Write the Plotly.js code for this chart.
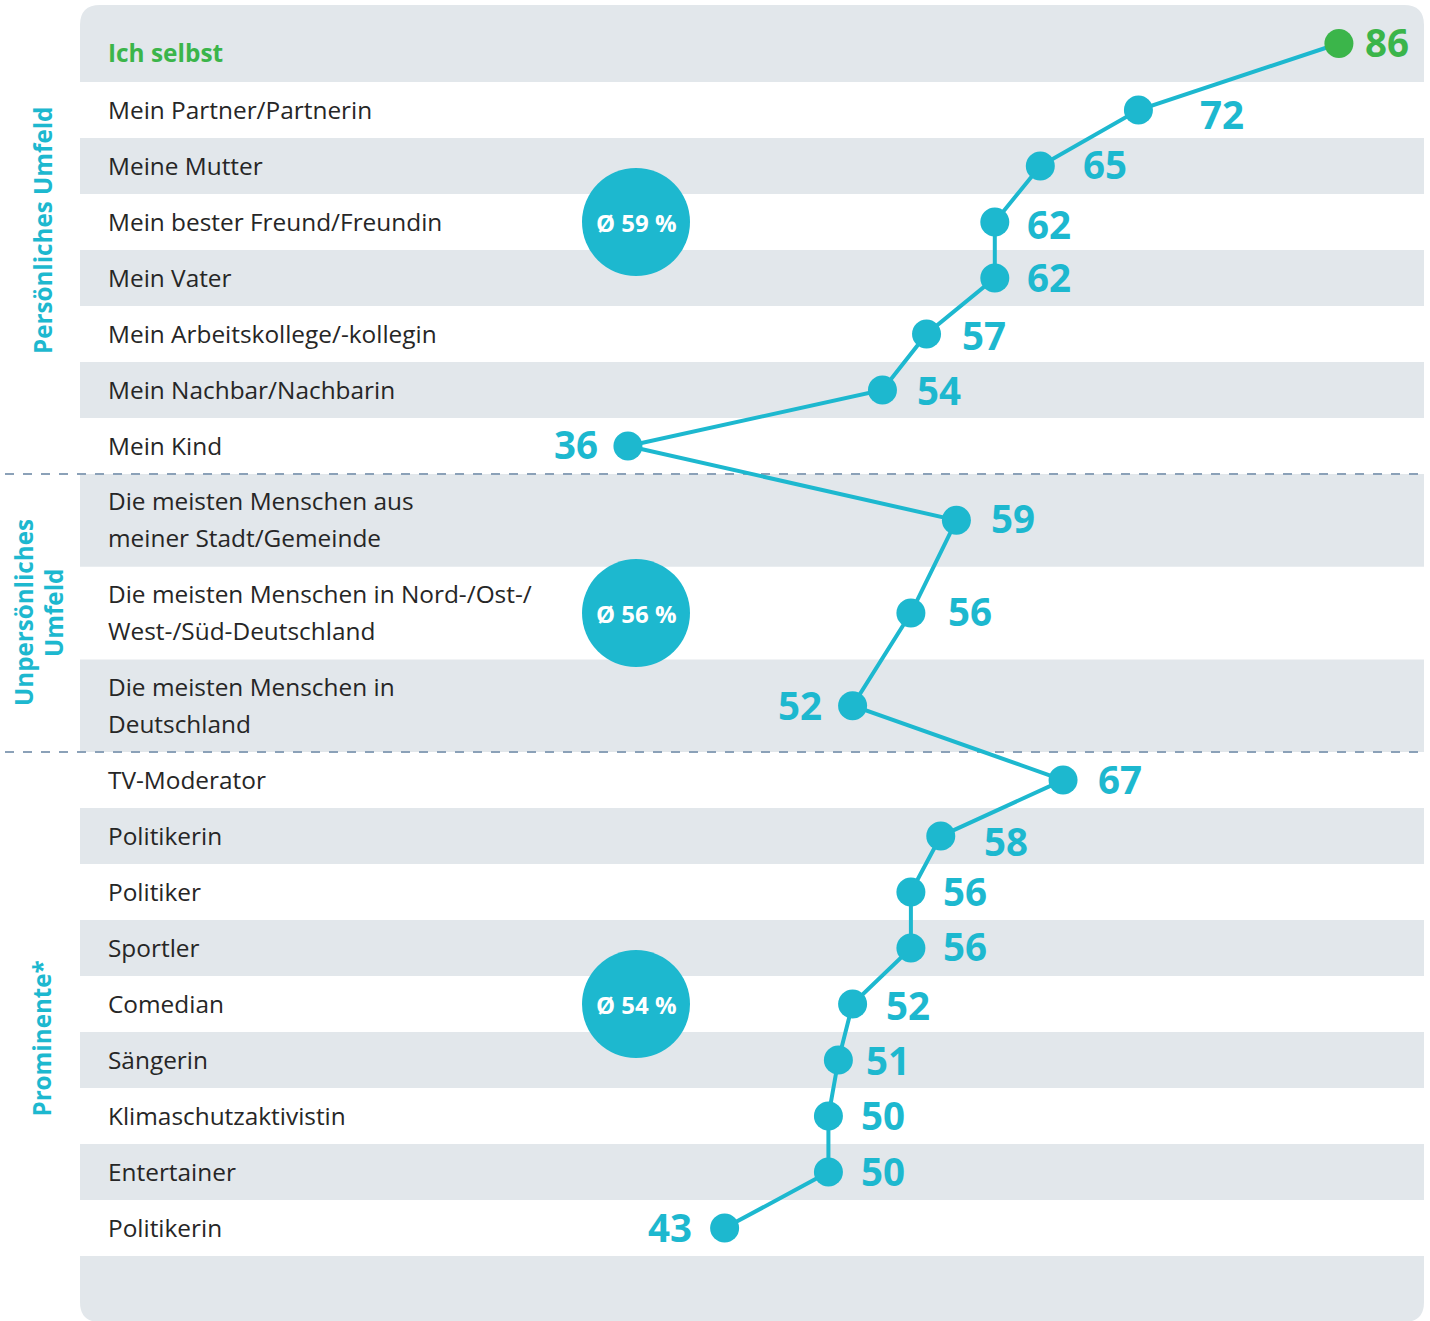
<!DOCTYPE html>
<html>
<head>
<meta charset="utf-8">
<script src="https://cdn.plot.ly/plotly-3.0.1.min.js"></script>
<style>
  html, body { margin: 0; padding: 0; background: #ffffff; }
  #chart { width: 1430px; height: 1321px; }
</style>
</head>
<body>
<div id="chart"></div>
<script>
// ---------------- DATA ----------------
const categories = [
  "Ich selbst",
  "Mein Partner/Partnerin",
  "Meine Mutter",
  "Mein bester Freund/Freundin",
  "Mein Vater",
  "Mein Arbeitskollege/-kollegin",
  "Mein Nachbar/Nachbarin",
  "Mein Kind",
  "Die meisten Menschen aus\nmeiner Stadt/Gemeinde",
  "Die meisten Menschen in Nord-/Ost-/\nWest-/Süd-Deutschland",
  "Die meisten Menschen in\nDeutschland",
  "TV-Moderator",
  "Politikerin",
  "Politiker",
  "Sportler",
  "Comedian",
  "Sängerin",
  "Klimaschutzaktivistin",
  "Entertainer",
  "Politikerin"
];
// values as read from the point positions (labels show them rounded)
const values = [86.0, 71.9, 65.0, 61.8, 61.8, 57.0, 53.9, 36.0, 59.1, 55.9, 51.8, 66.6, 58.0, 55.9, 55.9, 51.8, 50.8, 50.1, 50.1, 42.8];
const valueLabels = values.map(v => String(Math.round(v)));
const groupOfRow = [0, 0, 0, 0, 0, 0, 0, 0, 1, 1, 1, 2, 2, 2, 2, 2, 2, 2, 2, 2];
const groupNames = ["Persönliches Umfeld", "Unpersönliches\nUmfeld", "Prominente*"];
const groupAverages = [59, 56, 54];
const averageLabels = groupAverages.map(v => "Ø " + v + " %");

// ---------------- STYLE / LAYOUT CONFIG ----------------
const W = 1430, H = 1321;
const TEAL = "#1db8cf", GREEN = "#3bb54a", GREY = "#e2e7eb", DASH = "#8ba1b8", TEXT = "#262626";
const FONT = "Open Sans";
const panelLeft = 80, panelRight = 1424, panelTop = 5, panelBottom = 1322, panelRadius = 20;
const firstRowExtra = 21;          // extra top padding of first row
const rowH1 = 56, rowH2 = 92.7;    // single / double line rows
const labelX = 106;
const lineGap = 37;                // line spacing of two-line labels
const pxPerUnit = 14.22, zeroPx = 116; // x scale
const labelLeftIdx = [7, 10, 19];  // value labels placed on the left
// per-label gap (px from point centre) and vertical nudge (px, down positive)
const labelGap = [26, 62, 43, 32, 32, 35, 35, 30, 35, 37, 31, 35, 43, 32, 32, 33, 28, 33, 33, 33];
const labelNudge = [-1, 5, -1, 3, 0, 2, 1, -1, -1, -1, 0, 0, 6, 0, -1, 2, 1, 0, 0, 0];
const avgRowIdx = [3, 9, 15];      // row at which each average bubble sits
const bubbleCx = 636, bubbleR = 54;
const groupLabelX = [42, 38, 42];
const groupLabelDy = [-6, 0, 2];

const px = v => v / W;

// compute row geometry
const rowTop = [], rowBot = [], rowCenter = [];
let cur = panelTop;
categories.forEach((c, i) => {
  let h = c.includes("\n") ? rowH2 : rowH1;
  if (i === 0) h += firstRowExtra;
  rowTop.push(cur);
  rowBot.push(cur + h);
  rowCenter.push(cur + h / 2);
  cur += h;
});

const shapes = [];
// panel background (rounded)
const L = px(panelLeft), R = px(panelRight), rx = px(panelRadius), T = panelTop, B = panelBottom, r = panelRadius;
shapes.push({
  type: "path", xref: "paper", yref: "y", layer: "below",
  path: `M ${L + rx} ${T} L ${R - rx} ${T} Q ${R} ${T} ${R} ${T + r} L ${R} ${B - r} Q ${R} ${B} ${R - rx} ${B} L ${L + rx} ${B} Q ${L} ${B} ${L} ${B - r} L ${L} ${T + r} Q ${L} ${T} ${L + rx} ${T} Z`,
  fillcolor: GREY, line: { width: 0 }
});
// white stripes on odd rows
categories.forEach((c, i) => {
  if (i % 2 === 1) {
    shapes.push({ type: "rect", xref: "paper", yref: "y", layer: "below",
      x0: L, x1: R, y0: rowTop[i], y1: rowBot[i], fillcolor: "#ffffff", line: { width: 0 } });
  }
});
// dashed group separators
for (let i = 1; i < categories.length; i++) {
  if (groupOfRow[i] !== groupOfRow[i - 1]) {
    shapes.push({ type: "line", xref: "paper", yref: "y", layer: "below",
      x0: px(5), x1: R, y0: rowTop[i], y1: rowTop[i],
      line: { color: DASH, width: 2, dash: "dash" } });
  }
}
// average bubbles
groupAverages.forEach((v, g) => {
  const cy = rowCenter[avgRowIdx[g]];
  shapes.push({ type: "circle", xref: "paper", yref: "y", layer: "below",
    x0: px(bubbleCx - bubbleR), x1: px(bubbleCx + bubbleR), y0: cy - bubbleR, y1: cy + bubbleR,
    fillcolor: TEAL, line: { width: 0 } });
});

const annotations = [];
// category labels
categories.forEach((c, i) => {
  const lines = c.split("\n");
  lines.forEach((ln, k) => {
    const off = (k - (lines.length - 1) / 2) * lineGap;
    annotations.push({
      xref: "paper", yref: "y", x: px(labelX), y: rowCenter[i] + off + (i === 0 ? 9 : -1),
      xanchor: "left", yanchor: "middle", showarrow: false, text: ln,
      font: { family: FONT, size: 24.4, color: i === 0 ? GREEN : TEXT, weight: i === 0 ? 700 : 400 }
    });
  });
});
// value labels
values.forEach((v, i) => {
  const left = labelLeftIdx.includes(i);
  annotations.push({
    xref: "x", yref: "y", x: v, y: rowCenter[i], showarrow: false,
    xanchor: left ? "right" : "left", yanchor: "middle",
    xshift: left ? -(labelGap[i] - 2) : (labelGap[i] - 2), yshift: -labelNudge[i] + 1,
    text: valueLabels[i],
    font: { family: FONT, size: 38.5, color: i === 0 ? GREEN : TEAL, weight: 700 }
  });
});
// average bubble texts
groupAverages.forEach((v, g) => {
  annotations.push({
    xref: "paper", yref: "y", x: px(bubbleCx), y: rowCenter[avgRowIdx[g]],
    xanchor: "center", yanchor: "middle", showarrow: false, text: averageLabels[g],
    font: { family: FONT, size: 24, color: "#ffffff", weight: 700 }
  });
});
// group titles (rotated)
groupNames.forEach((name, g) => {
  const rows = groupOfRow.map((gg, i) => gg === g ? i : -1).filter(i => i >= 0);
  let top = g === 0 ? 0 : rowTop[rows[0]];
  let bot = g === groupNames.length - 1 ? H : rowBot[rows[rows.length - 1]];
  const lines = name.split("\n");
  lines.forEach((ln, k) => {
    const off = (k - (lines.length - 1) / 2) * 30;
    annotations.push({
      xref: "paper", yref: "y", x: px(groupLabelX[g] + off), y: (top + bot) / 2 + groupLabelDy[g],
      xanchor: "center", yanchor: "middle", showarrow: false, text: ln, textangle: -90,
      font: { family: FONT, size: 24.2, color: TEAL, weight: 700 }
    });
  });
});

const trace = {
  type: "scatter", mode: "lines+markers",
  x: values, y: rowCenter,
  line: { color: TEAL, width: 4 },
  marker: { size: 29, color: values.map((v, i) => i === 0 ? GREEN : TEAL) },
  hoverinfo: "skip", cliponaxis: false
};

const layout = {
  width: W, height: H, autosize: false,
  margin: { l: 0, r: 0, t: 0, b: 0, pad: 0 },
  paper_bgcolor: "#ffffff", plot_bgcolor: "rgba(0,0,0,0)",
  showlegend: false,
  xaxis: { range: [-zeroPx / pxPerUnit, (W - zeroPx) / pxPerUnit], visible: false, fixedrange: true },
  yaxis: { range: [H, 0], visible: false, fixedrange: true },
  shapes: shapes, annotations: annotations
};

Plotly.newPlot("chart", [trace], layout, { displayModeBar: false, staticPlot: true });
</script>
</body>
</html>
